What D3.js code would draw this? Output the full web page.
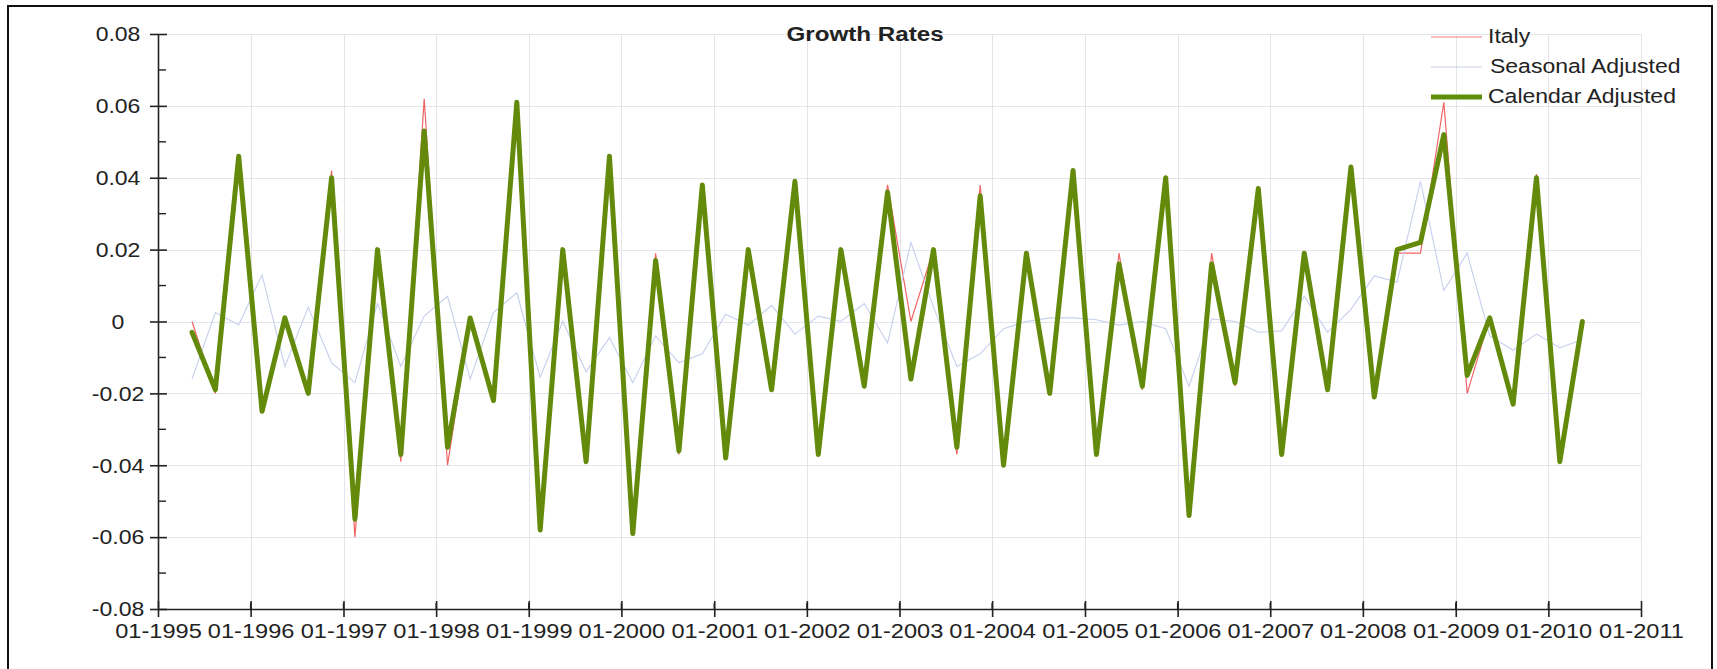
<!DOCTYPE html>
<html>
<head>
<meta charset="utf-8">
<script src="https://cdn.jsdelivr.net/npm/d3@7"></script>
<style>
  html, body { margin: 0; padding: 0; background: #fff; }
  svg { display: block; font-family: "Liberation Sans", Arial, sans-serif; }
</style>
</head>
<body>
<svg id="chart" width="1717" height="669"></svg>
<script>
// Quarterly periods (each plotted at the middle month of its quarter)
const quarters = [
  "1995Q2","1995Q3","1995Q4",
  "1996Q1","1996Q2","1996Q3","1996Q4",
  "1997Q1","1997Q2","1997Q3","1997Q4",
  "1998Q1","1998Q2","1998Q3","1998Q4",
  "1999Q1","1999Q2","1999Q3","1999Q4",
  "2000Q1","2000Q2","2000Q3","2000Q4",
  "2001Q1","2001Q2","2001Q3","2001Q4",
  "2002Q1","2002Q2","2002Q3","2002Q4",
  "2003Q1","2003Q2","2003Q3","2003Q4",
  "2004Q1","2004Q2","2004Q3","2004Q4",
  "2005Q1","2005Q2","2005Q3","2005Q4",
  "2006Q1","2006Q2","2006Q3","2006Q4",
  "2007Q1","2007Q2","2007Q3","2007Q4",
  "2008Q1","2008Q2","2008Q3","2008Q4",
  "2009Q1","2009Q2","2009Q3","2009Q4",
  "2010Q1","2010Q2"
];

// Raw quarter-on-quarter growth
const italy = [
  0.000,-0.020,0.045,
  -0.025,0.001,-0.020,0.042,
  -0.060,0.020,-0.039,0.062,
  -0.040,0.001,-0.022,0.061,
  -0.058,0.020,-0.039,0.043,
  -0.059,0.019,-0.037,0.038,
  -0.038,0.020,-0.019,0.039,
  -0.037,0.020,-0.018,0.038,
  0.000,0.020,-0.037,0.038,
  -0.040,0.019,-0.020,0.041,
  -0.037,0.019,-0.019,0.040,
  -0.054,0.019,-0.018,0.037,
  -0.037,0.019,-0.019,0.040,
  -0.021,0.019,0.019,0.061,
  -0.020,0.001,-0.023,0.041,
  -0.039,0.000
];

// Seasonally adjusted growth
const seasonal = [
  -0.016,0.0025,-0.001,
  0.013,-0.0125,0.004,-0.0115,
  -0.017,0.005,-0.0125,0.0015,
  0.007,-0.016,0.0025,0.008,
  -0.0155,0.000,-0.014,-0.0045,
  -0.017,-0.004,-0.0115,-0.009,
  0.002,-0.001,0.0045,-0.0035,
  0.0015,0.000,0.005,-0.006,
  0.022,0.004,-0.0125,-0.009,
  -0.002,0.000,0.001,0.001,
  0.0005,-0.001,0.000,-0.002,
  -0.018,0.0007,0.000,-0.003,
  -0.0026,0.007,-0.003,0.0034,
  0.0127,0.011,0.039,0.0086,
  0.019,-0.004,-0.008,-0.0035,
  -0.0073,-0.005
];

// Calendar adjusted growth
const calendar = [
  -0.003,-0.019,0.046,
  -0.025,0.001,-0.020,0.040,
  -0.055,0.020,-0.037,0.053,
  -0.035,0.001,-0.022,0.061,
  -0.058,0.020,-0.039,0.046,
  -0.059,0.017,-0.036,0.038,
  -0.038,0.020,-0.019,0.039,
  -0.037,0.020,-0.018,0.036,
  -0.016,0.020,-0.035,0.035,
  -0.040,0.019,-0.020,0.042,
  -0.037,0.016,-0.018,0.040,
  -0.054,0.016,-0.017,0.037,
  -0.037,0.019,-0.019,0.043,
  -0.021,0.020,0.022,0.052,
  -0.015,0.001,-0.023,0.040,
  -0.039,0.000
];

const yTickValues = [-0.08,-0.06,-0.04,-0.02,0,0.02,0.04,0.06,0.08];
const yTickLabels = ["-0.08","-0.06","-0.04","-0.02","0","0.02","0.04","0.06","0.08"];
const yMinorValues = [-0.07,-0.05,-0.03,-0.01,0.01,0.03,0.05,0.07];

const seriesNames = ["Italy","Seasonal Adjusted","Calendar Adjusted"];

// ---- layout ----
const plotLeft = 158, plotRight = 1641, plotTop = 34, plotBottom = 609;
const textStretch = 1.18;
const xLabelStretch = 1.21;

const svg = d3.select("#chart");

// outer frame
svg.append("rect")
  .attr("x", 8).attr("y", 6)
  .attr("width", 1704).attr("height", 720)
  .attr("fill", "#fff").attr("stroke", "#111").attr("stroke-width", 2);

const parseQuarter = q => {
  const yr = +q.slice(0, 4), qn = +q.slice(5);
  return new Date(yr, (qn - 1) * 3 + 1, 15);
};
const dates = quarters.map(parseQuarter);

const x = d3.scaleTime()
  .domain([new Date(1995, 0, 1), new Date(2011, 0, 1)])
  .range([plotLeft, plotRight]);
const y = d3.scaleLinear().domain([-0.08, 0.08]).range([plotBottom, plotTop]);

const years = d3.timeYear.range(new Date(1995, 0, 1), new Date(2011, 0, 2));
const midYears = d3.timeMonth.every(12).range(new Date(1995, 6, 1), new Date(2011, 0, 1));

// ---- grid ----
const grid = svg.append("g").attr("stroke", "#e3e5ea").attr("stroke-width", 1);
grid.selectAll("line.h").data(yTickValues.filter(v => v > -0.08)).join("line")
  .attr("class", "h")
  .attr("x1", plotLeft + 10).attr("x2", plotRight)
  .attr("y1", d => Math.round(y(d)) + 0.5).attr("y2", d => Math.round(y(d)) + 0.5);
grid.selectAll("line.v").data(years.slice(1)).join("line")
  .attr("class", "v")
  .attr("x1", d => Math.round(x(d)) + 0.5).attr("x2", d => Math.round(x(d)) + 0.5)
  .attr("y1", plotTop).attr("y2", plotBottom - 8);

// ---- series ----
const line = vals => d3.line()
  .x((d, i) => x(dates[i]))
  .y(d => y(d))(vals);

svg.append("path").attr("d", line(italy))
  .attr("fill", "none").attr("stroke", "#f06464").attr("stroke-width", 1.2);
svg.append("path").attr("d", line(seasonal))
  .attr("fill", "none").attr("stroke", "#c6cfec").attr("stroke-width", 1.1);
svg.append("path").attr("d", line(calendar))
  .attr("fill", "none").attr("stroke", "#638a0a").attr("stroke-width", 5)
  .attr("stroke-linejoin", "round").attr("stroke-linecap", "round");

// ---- axes ----
const xAxis = d3.axisBottom(x)
  .tickValues(years)
  .tickFormat(d3.timeFormat("%m-%Y"))
  .tickSizeInner(7).tickSizeOuter(0);
const gx = svg.append("g").attr("transform", `translate(0,${plotBottom})`).call(xAxis);
gx.select(".domain").attr("stroke", "#222").attr("stroke-width", 1.6);
gx.selectAll(".tick line").attr("y1", -8).attr("y2", 8).attr("stroke", "#222").attr("stroke-width", 1.6);
gx.selectAll(".tick text")
  .attr("y", 29).attr("dy", null)
  .attr("fill", "#222")
  .attr("font-size", 19.5)
  .attr("transform", `scale(${xLabelStretch},1)`);
gx.selectAll("line.minor").data(midYears).join("line")
  .attr("class", "minor")
  .attr("x1", d => x(d)).attr("x2", d => x(d))
  .attr("y1", -6).attr("y2", 0)
  .attr("stroke", "#222").attr("stroke-width", 1.4);

const yAxis = d3.axisLeft(y)
  .tickValues(yTickValues)
  .tickFormat((d, i) => yTickLabels[i])
  .tickSizeInner(8).tickSizeOuter(0);
const gy = svg.append("g").attr("transform", `translate(${plotLeft},0)`).call(yAxis);
gy.select(".domain").attr("stroke", "#222").attr("stroke-width", 1.6);
gy.selectAll(".tick line").attr("x1", -8).attr("x2", 9).attr("stroke", "#222").attr("stroke-width", 1.6);
// labels centred on x = -40 after horizontal stretch
gy.selectAll(".tick text")
  .attr("x", -40 / textStretch).attr("dy", "0.35em")
  .attr("text-anchor", "middle")
  .attr("fill", "#222")
  .attr("font-size", 19.5)
  .attr("transform", `scale(${textStretch},1)`);
gy.selectAll("line.minor").data(yMinorValues).join("line")
  .attr("class", "minor")
  .attr("x1", 0).attr("x2", 8)
  .attr("y1", d => y(d)).attr("y2", d => y(d))
  .attr("stroke", "#222").attr("stroke-width", 1.4);

// ---- title ----
svg.append("text")
  .attr("transform", `translate(865,40.5) scale(${textStretch},1)`)
  .attr("text-anchor", "middle")
  .attr("font-size", 20.5).attr("font-weight", "bold")
  .attr("fill", "#222")
  .text("Growth Rates");

// ---- legend ----
const legendStyles = [
  { color: "#f08080", width: 1.2 },
  { color: "#c8cfe4", width: 1.2 },
  { color: "#5f8f0a", width: 5 }
];
const legend = svg.append("g");
seriesNames.forEach((name, i) => {
  const cy = 37 + i * 30;
  legend.append("line")
    .attr("x1", 1431).attr("x2", 1482)
    .attr("y1", cy).attr("y2", cy)
    .attr("stroke", legendStyles[i].color)
    .attr("stroke-width", legendStyles[i].width);
  legend.append("text")
    .attr("transform", `translate(${i === 1 ? 1490 : 1488},${cy + 6}) scale(${textStretch},1)`)
    .attr("font-size", 19.5)
    .attr("fill", "#222")
    .text(name);
});
</script>
</body>
</html>
